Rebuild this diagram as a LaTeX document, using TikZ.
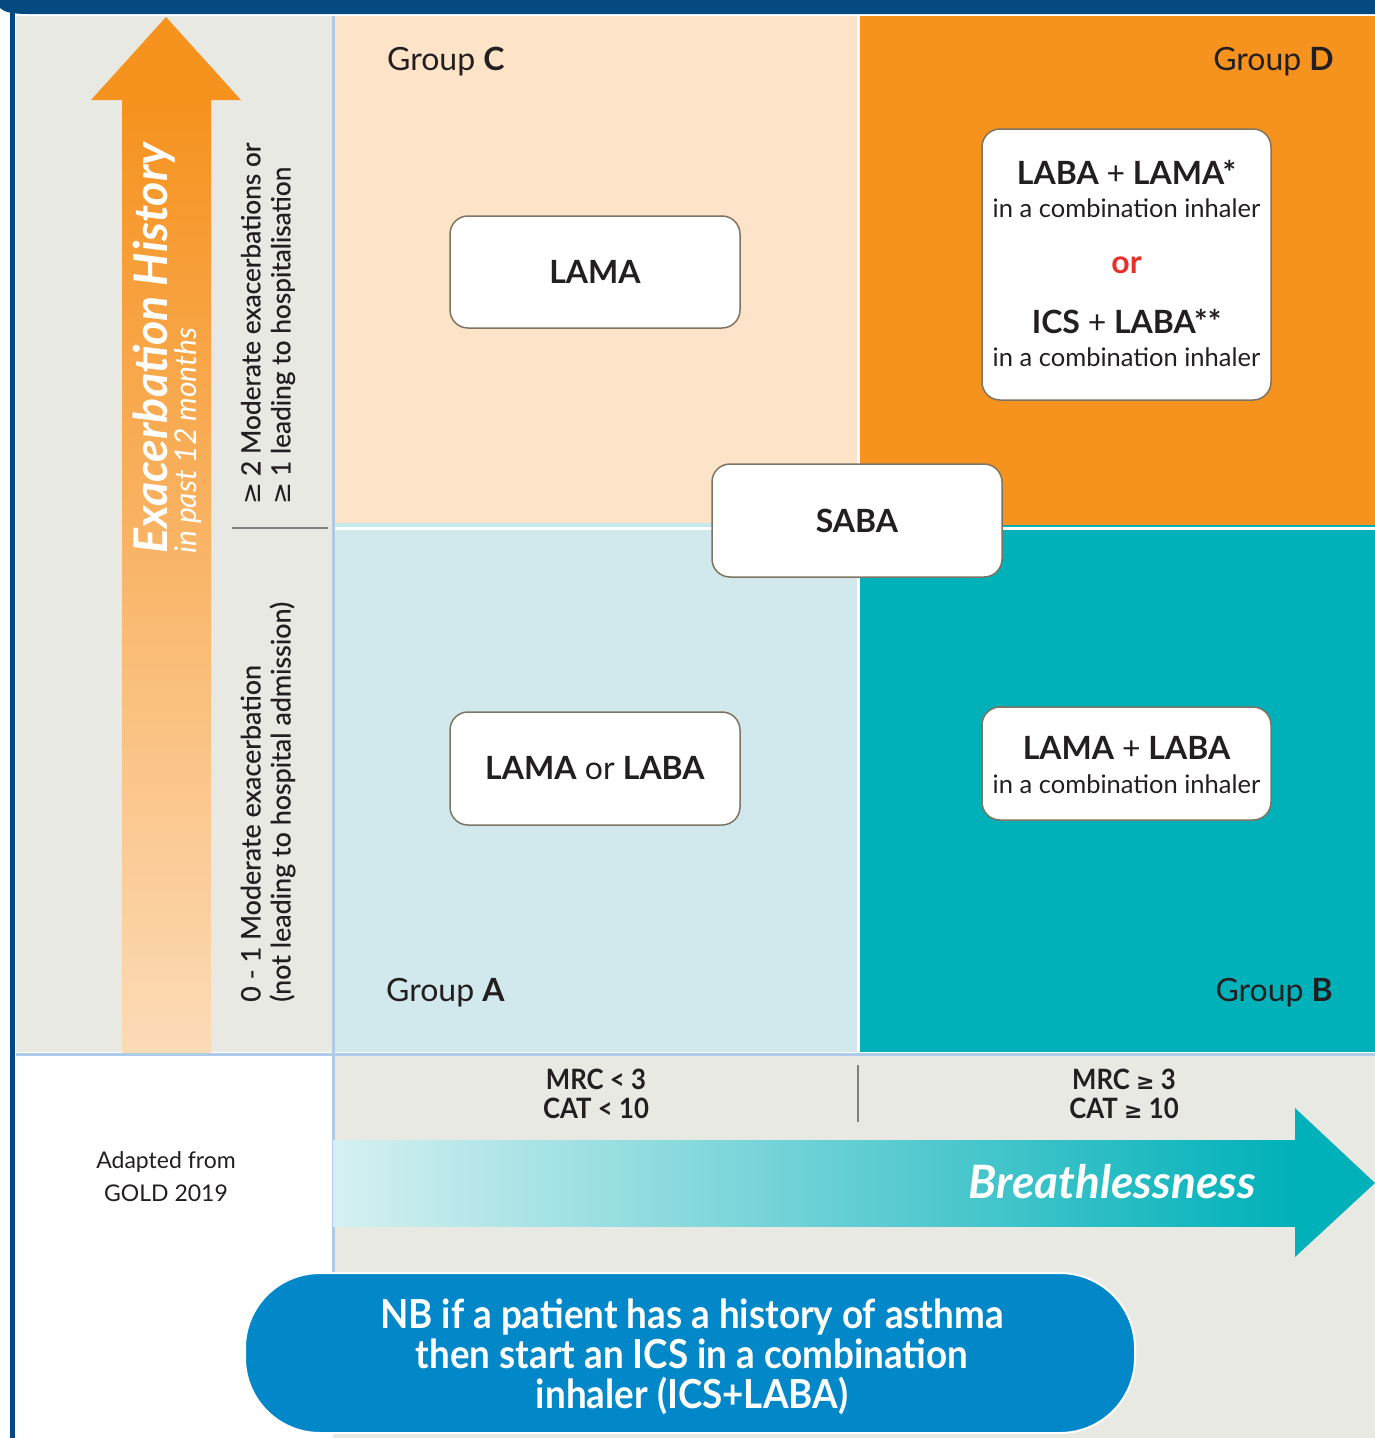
\documentclass[tikz,border=0pt]{standalone}
\usepackage{fontspec}
\setmainfont{Lato}
\newfontfamily\symfont{DejaVu Sans}
\newfontfamily\latomed[FakeBold=0.5]{Lato}
\newfontfamily\latocond[FakeStretch=0.92]{Lato}
\definecolor{navy}{HTML}{044A80}
\definecolor{panelgray}{HTML}{E9E9E4}
\definecolor{peach}{HTML}{FDE3C8}
\definecolor{orng}{HTML}{F6921E}
\definecolor{lblue}{HTML}{D1E9EC}
\definecolor{tealq}{HTML}{00B1B9}
\definecolor{divblue}{HTML}{AECBE9}
\definecolor{boxline}{HTML}{7D7563}
\definecolor{txt}{HTML}{231F20}
\definecolor{redor}{HTML}{E8302A}
\definecolor{nbblue}{HTML}{0288C8}
\definecolor{lteal}{HTML}{C4EAEC}
\newcommand\fsz[2]{\fontsize{#1}{#2}\selectfont}
\begin{document}
\begin{tikzpicture}[x=1pt,y=-1pt,
  every node/.append style={text=txt, inner sep=0pt},
  tbox/.style={draw=boxline, fill=white, line width=1.5pt, rounded corners=18pt,
     minimum width=290pt, minimum height=112pt, font=\fsz{32}{38}},
  grp/.style={font=\fsz{32}{38}},
  side/.style={rotate=90, anchor=west, align=left, font=\latomed\fsz{26.3}{30}},
  crit/.style={align=center, font=\latocond\bfseries\fsz{28}{29}},
  small/.style={font=\fsz{25.5}{28}},
  big/.style={font=\fsz{32}{38}\bfseries}
]
\useasboundingbox (0,0) rectangle (1375,1438);
\fill[white] (0,0) rectangle (1375,1438);
% frame
\fill[navy] (0,0) -- (1375,0) -- (1375,14) -- (28,14) .. controls (12,14) and (4,12) .. (0,8) -- cycle;
\fill[navy] (10,12) rectangle (15,1438);
% left panel
\fill[panelgray] (16,16) rectangle (333,1052);
% quadrants
\fill[peach] (333,16) rectangle (858,523);
\fill[lteal] (333,523) rectangle (858,527);
\fill[orng] (858,16) rectangle (1375,525);
\fill[tealq] (858,525) rectangle (1375,527);
\fill[lblue] (333,530) rectangle (858,1052);
\fill[tealq] (858,530) rectangle (1375,1052);
\fill[white] (856.5,16) rectangle (859.5,1052);
% bottom area
\fill[panelgray] (333,1055) rectangle (1375,1438);
\draw[divblue, line width=3pt] (16,1054) -- (1375,1054);
\draw[divblue, line width=3pt] (333,16) -- (333,1280);
% vertical arrow
\shade[top color=orng, bottom color=peach!90!orng] (122,100) rectangle (211,1052);
\fill[orng] (166,17) -- (241,100) -- (91,100) -- cycle;
\node[rotate=90, anchor=base west, text=white, font=\fsz{46.5}{50}\itshape\bfseries] (exh) at (167,554) {Exacerbation History};
\node[rotate=90, anchor=base west, text=white, font=\fsz{30}{32}\itshape] (p12) at (196,554) {in past 12 months};
% side labels
\node[side] (hi) at (268,505) {{\symfont≥} 2 Moderate exacerbations or\\{\symfont≥} 1 leading to hospitalisation};
\draw[gray, line width=2pt] (232,528) coordinate (sl) -- (328,528) coordinate (sr);
\node[side, font=\latomed\fsz{26.9}{30}] (lo) at (268,1002) {0 - 1 Moderate exacerbation\\(not leading to hospital admission)};
% group labels
\node[grp, anchor=base west] (gc) at (387,70) {Group \textbf{C}};
\node[grp, anchor=base east] (gd) at (1334,70) {Group \textbf{D}};
\node[grp, anchor=base west] (ga) at (386,1001) {Group \textbf{A}};
\node[grp, anchor=base east] (gb) at (1333,1001) {Group \textbf{B}};
% boxes
\node[tbox] (lama) at (595,272) {\textbf{LAMA}};
\node[tbox, minimum height=113pt] (lamalaba) at (595,768.5) {\textbf{LAMA} or \textbf{LABA}};
\node[tbox, minimum height=113pt] (saba) at (857,520.5) {\textbf{SABA}};
\node[tbox, minimum width=289pt, minimum height=113pt] (bbox) at (1126.5,763.5) {};
\node[big] (b1) at (1126.5,748) {LAMA \textmd{+} LABA};
\node[small] (b2) at (1126.5,784) {in a combination inhaler};
\node[tbox, minimum width=289pt, minimum height=271pt] (dbox) at (1126.5,264.5) {};
\node[big] (d1) at (1126.5,172) {LABA \textmd{+} LAMA*};
\node[small] (d2) at (1126.5,208) {in a combination inhaler};
\node[big, text=redor] (d3) at (1126.5,265) {or};
\node[big] (d4) at (1126.5,321) {ICS \textmd{+} LABA**};
\node[small] (d5) at (1126.5,357) {in a combination inhaler};
% criteria
\node[crit] (c1) at (596,1094) {MRC < 3\\CAT < 10};
\draw[gray, line width=2.5pt] (858,1065) coordinate (vt) -- (858,1122) coordinate (vb);
\node[crit] (c2) at (1124,1094) {MRC {\symfont\fsz{22}{29}≥} 3\\CAT {\symfont\fsz{22}{29}≥} 10};
% horizontal arrow
\shade[left color=lteal!70!white, right color=tealq] (333,1140) rectangle (1295,1226);
\fill[tealq] (1295,1108) -- (1375,1183) -- (1295,1257) -- cycle;
\node[anchor=east, text=white, font=\fsz{46}{48}\bfseries\itshape] (br) at (1256,1182) {Breathlessness};
\node[align=center, font=\fsz{23}{33}] (src) at (166,1177) {Adapted from\\GOLD 2019};
% NB box
\node[draw=white, line width=2pt, fill=nbblue, rounded corners=75pt, minimum width=890pt, minimum height=160pt] (nb) at (690,1353) {};
\node[text=white, align=center, font=\latocond\bfseries\fsz{40}{40}] (nbt) at (692,1357) {NB if a patient has a history of asthma\\then start an ICS in a combination\\inhaler (ICS+LABA)};
\end{tikzpicture}
\end{document}
